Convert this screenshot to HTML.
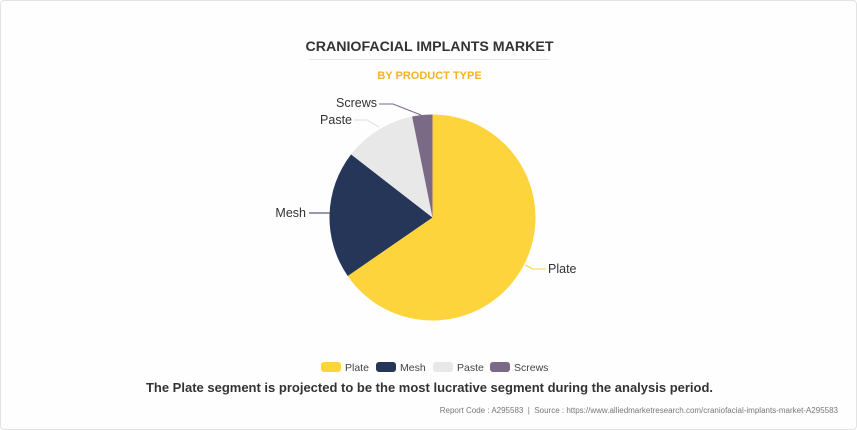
<!DOCTYPE html>
<html><head><style>
body{margin:0;background:#fff;}
.w{position:relative;width:855px;height:428px;border:1px solid #e3e3e3;border-radius:4px;background:#fefefe;font-family:"Liberation Sans",sans-serif;overflow:hidden}
.t{position:absolute;top:38px;left:0;width:857px;text-align:center;font-weight:bold;font-size:14.2px;color:#333}
.hr{position:absolute;top:58px;left:308px;width:240px;height:1px;background:#e5e5e5}
.s{position:absolute;top:69px;left:0;width:857px;text-align:center;font-weight:bold;font-size:11px;color:#f5b324}
.f{position:absolute;top:379px;left:0;width:857px;text-align:center;font-weight:bold;font-size:13px;color:#333}
.r{position:absolute;top:405px;right:18px;font-size:8px;color:#777}
</style></head><body><div class="w">
<div class="t">CRANIOFACIAL IMPLANTS MARKET</div>
<div class="hr"></div>
<div class="s">BY PRODUCT TYPE</div>
<svg width="857" height="430" style="position:absolute;left:0;top:0" font-family="Liberation Sans, sans-serif">
<path d="M431.5,216.5 L431.5,113.5 A103,103 0 1 1 346.7,275 Z" fill="#fed43c"/>
<path d="M431.5,216.5 L346.7,275 A103,103 0 0 1 350.1,153.4 Z" fill="#253658"/>
<path d="M431.5,216.5 L350.1,153.4 A103,103 0 0 1 411.1,115.5 Z" fill="#e8e8e8"/>
<path d="M431.5,216.5 L411.1,115.5 A103,103 0 0 1 431.5,113.5 Z" fill="#7a6a85"/>
<polyline points="524,264 532,268 545,268" fill="none" stroke="#fed43c"/>
<polyline points="331,212 308,212" fill="none" stroke="#253658"/>
<polyline points="378,126 366,119 353,119" fill="none" stroke="#ddd"/>
<polyline points="420,114 392,103 378,103" fill="none" stroke="#7a6a85"/>
<g font-size="12.5" fill="#333">
<text x="547" y="272">Plate</text>
<text x="305" y="216" text-anchor="end">Mesh</text>
<text x="351" y="123" text-anchor="end">Paste</text>
<text x="376" y="106" text-anchor="end">Screws</text>
</g>
<g font-size="10.5" fill="#444">
<rect x="320" y="361" width="20" height="10" rx="3" fill="#fed43c"/><text x="344" y="370">Plate</text>
<rect x="375" y="361" width="20" height="10" rx="3" fill="#253658"/><text x="399" y="370">Mesh</text>
<rect x="432" y="361" width="20" height="10" rx="3" fill="#e8e8e8"/><text x="456" y="370">Paste</text>
<rect x="489" y="361" width="20" height="10" rx="3" fill="#7a6a85"/><text x="513" y="370">Screws</text>
</g>
</svg>
<div class="f">The Plate segment is projected to be the most lucrative segment during the analysis period.</div>
<div class="r">Report Code : A295583 &nbsp;|&nbsp; Source : https://www.alliedmarketresearch.com/craniofacial-implants-market-A295583</div>
</div></body></html>
